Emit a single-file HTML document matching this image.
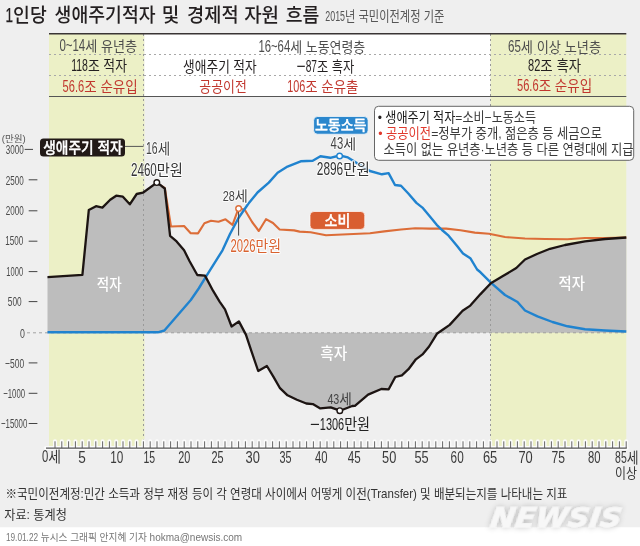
<!DOCTYPE html>
<html lang="ko"><head><meta charset="utf-8"><title>1인당 생애주기적자 및 경제적 자원 흐름</title>
<style>
html,body{margin:0;padding:0;background:#fff;}
svg{display:block;will-change:transform;font-family:'Liberation Sans', 'Noto Sans CJK KR', sans-serif;}
</style></head><body>
<svg width="640" height="546" viewBox="0 0 640 546">
<defs>
<filter id="glow" x="-10%" y="-40%" width="120%" height="180%">
<feGaussianBlur in="SourceAlpha" stdDeviation="3"/>
<feComponentTransfer><feFuncA type="linear" slope="0.25"/></feComponentTransfer>
<feMerge><feMergeNode/><feMergeNode in="SourceGraphic"/></feMerge>
</filter>
</defs>
<rect x="0" y="0" width="640" height="527.5" fill="#efefef"/>
<rect x="0" y="527.5" width="640" height="18.5" fill="#ffffff"/>
<rect x="49" y="34" width="95.5" height="414" fill="#ecf0c6"/>
<rect x="490.5" y="34" width="135.8" height="414" fill="#ecf0c6"/>
<rect x="144.5" y="34" width="345.7" height="62.5" fill="#ffffff"/>
<polygon points="47.5,332.8 47.5,277.1 82.4,274.8 88.8,210.0 96.0,206.2 102.4,207.6 110.2,199.8 116.2,195.7 122.9,196.7 129.8,204.3 136.7,194.0 142.9,192.7 156.8,182.6 161.4,185.8 164.8,188.5 170.1,235.9 176.6,241.4 184.1,250.3 189.6,261.3 197.3,275.0 205.0,275.6 213.0,290.7 219.6,301.6 225.0,309.3 231.6,326.5 238.9,321.4 245.9,334.6 251.4,351.1 258.2,371.0 266.9,366.0 273.5,376.9 280.0,388.2 287.5,395.3 296.9,399.8 306.3,403.5 312.8,404.1 320.3,408.4 330.7,407.3 340.0,410.7 352.2,406.0 354.9,405.8 368.1,394.6 381.3,389.0 388.7,389.3 395.3,377.0 401.9,375.3 408.5,369.2 415.9,359.3 422.5,354.4 429.1,346.5 436.9,333.8 442.3,330.0 449.7,324.9 462.6,310.8 470.3,305.6 480.5,294.1 490.8,283.3 502.5,276.3 516.3,268.0 525.0,259.5 537.5,253.8 550.0,248.8 565.0,245.0 585.0,241.3 605.0,239.0 626.3,237.5 626.3,332.8" fill="#bdbdbd"/>
<line x1="143.5" y1="34" x2="143.5" y2="448" stroke="#999" stroke-width="1" stroke-dasharray="2,3"/>
<line x1="490.5" y1="34" x2="490.5" y2="448" stroke="#999" stroke-width="1" stroke-dasharray="2,3"/>
<line x1="49" y1="33.8" x2="626.3" y2="33.8" stroke="#3a3535" stroke-width="1.6"/>
<line x1="49" y1="54.5" x2="626.3" y2="54.5" stroke="#a8a8a8" stroke-width="1" stroke-dasharray="2,3"/>
<line x1="49" y1="75.5" x2="626.3" y2="75.5" stroke="#a8a8a8" stroke-width="1" stroke-dasharray="2,3"/>
<line x1="49" y1="96.5" x2="626.3" y2="96.5" stroke="#555" stroke-width="1"/>
<line x1="27" y1="332.8" x2="626.3" y2="332.8" stroke="#9a9a9a" stroke-width="0.9" stroke-dasharray="3,3"/>
<polyline points="161.4,185.8 164.8,188.2 171.0,226.5 184.1,226.0 190.7,233.2 198.0,233.4 204.4,223.3 211.0,220.8 218.5,221.7 225.5,219.3 232.5,224.8 238.5,208.5 244.6,209.5 252.1,222.0 258.8,231.0 266.0,219.2 273.0,223.0 279.6,229.5 294.1,230.4 299.6,231.6 310.6,232.2 326.0,235.2 347.9,234.3 370.0,233.3 384.3,231.4 401.0,229.5 415.2,228.3 429.5,228.6 446.2,228.6 460.5,230.2 474.8,232.6 489.0,233.8 505.0,237.0 525.0,238.5 545.0,239.0 567.5,239.3 585.0,238.0 605.0,238.0 626.3,237.5" fill="none" stroke="#dc6d38" stroke-width="2.1" stroke-linejoin="round"/>
<polyline points="47.5,332.3 157.8,332.3 164.4,330.5 190.8,300.0 198.7,288.5 206.0,276.7 222.5,250.3 230.0,234.0 238.5,218.0 248.3,203.8 257.5,192.5 268.8,182.6 277.6,172.7 287.5,166.6 300.7,161.3 312.7,160.7 320.4,156.3 330.3,157.8 339.6,155.5 347.9,157.4 360.0,165.0 369.9,171.0 381.9,174.3 388.6,173.1 395.0,185.0 401.0,185.7 408.1,193.3 416.4,202.9 422.4,207.6 429.5,216.0 436.7,224.8 442.0,230.0 448.6,235.7 456.9,245.7 463.0,253.5 470.3,258.2 477.1,269.5 480.5,272.3 490.8,282.6 505.0,295.0 517.5,302.0 525.0,310.5 537.5,316.3 552.5,322.0 567.5,326.3 585.0,329.3 605.0,330.5 626.3,331.5" fill="none" stroke="#2083cf" stroke-width="2.4" stroke-linejoin="round"/>
<polyline points="47.5,277.1 82.4,274.8 88.8,210.0 96.0,206.2 102.4,207.6 110.2,199.8 116.2,195.7 122.9,196.7 129.8,204.3 136.7,194.0 142.9,192.7 156.8,182.6 161.4,185.8 164.8,188.5 170.1,235.9 176.6,241.4 184.1,250.3 189.6,261.3 197.3,275.0 205.0,275.6 213.0,290.7 219.6,301.6 225.0,309.3 231.6,326.5 238.9,321.4 245.9,334.6 251.4,351.1 258.2,371.0 266.9,366.0 273.5,376.9 280.0,388.2 287.5,395.3 296.9,399.8 306.3,403.5 312.8,404.1 320.3,408.4 330.7,407.3 340.0,410.7 352.2,406.0 354.9,405.8 368.1,394.6 381.3,389.0 388.7,389.3 395.3,377.0 401.9,375.3 408.5,369.2 415.9,359.3 422.5,354.4 429.1,346.5 436.9,333.8 442.3,330.0 449.7,324.9 462.6,310.8 470.3,305.6 480.5,294.1 490.8,283.3 502.5,276.3 516.3,268.0 525.0,259.5 537.5,253.8 550.0,248.8 565.0,245.0 585.0,241.3 605.0,239.0 626.3,237.5" fill="none" stroke="#1c1412" stroke-width="2.3" stroke-linejoin="round"/>
<path d="M55.0,441.3V448 M61.8,441.3V448 M68.6,441.3V448 M75.4,441.3V448 M82.2,441.3V448 M89.0,441.3V448 M95.8,441.3V448 M102.6,441.3V448 M109.4,441.3V448 M116.2,441.3V448 M123.0,441.3V448 M129.8,441.3V448 M136.6,441.3V448 M143.4,441.3V448 M150.2,441.3V448 M157.0,441.3V448 M163.8,441.3V448 M170.6,441.3V448 M177.4,441.3V448 M184.2,441.3V448 M191.0,441.3V448 M197.8,441.3V448 M204.6,441.3V448 M211.4,441.3V448 M218.2,441.3V448 M225.0,441.3V448 M231.8,441.3V448 M238.6,441.3V448 M245.4,441.3V448 M252.2,441.3V448 M259.0,441.3V448 M265.8,441.3V448 M272.6,441.3V448 M279.4,441.3V448 M286.2,441.3V448 M293.0,441.3V448 M299.8,441.3V448 M306.6,441.3V448 M313.4,441.3V448 M320.2,441.3V448 M327.0,441.3V448 M333.8,441.3V448 M340.6,441.3V448 M347.4,441.3V448 M354.2,441.3V448 M361.0,441.3V448 M367.8,441.3V448 M374.6,441.3V448 M381.4,441.3V448 M388.2,441.3V448 M395.0,441.3V448 M401.8,441.3V448 M408.6,441.3V448 M415.4,441.3V448 M422.2,441.3V448 M429.0,441.3V448 M435.8,441.3V448 M442.6,441.3V448 M449.4,441.3V448 M456.2,441.3V448 M463.0,441.3V448 M469.8,441.3V448 M476.6,441.3V448 M483.4,441.3V448 M490.2,441.3V448 M497.0,441.3V448 M503.8,441.3V448 M510.6,441.3V448 M517.4,441.3V448 M524.2,441.3V448 M531.0,441.3V448 M537.8,441.3V448 M544.6,441.3V448 M551.4,441.3V448 M558.2,441.3V448 M565.0,441.3V448 M571.8,441.3V448 M578.6,441.3V448 M585.4,441.3V448 M592.2,441.3V448 M599.0,441.3V448 M605.8,441.3V448 M612.6,441.3V448 M619.4,441.3V448 M626.2,441.3V448 M46,448.1H626.8" stroke="#fbfbfb" stroke-width="4" stroke-linecap="round"/>
<line x1="46" y1="448.1" x2="626.8" y2="448.1" stroke="#555" stroke-width="1.2"/>
<path d="M55.0,441.3V448 M61.8,441.3V448 M68.6,441.3V448 M75.4,441.3V448 M82.2,441.3V448 M89.0,441.3V448 M95.8,441.3V448 M102.6,441.3V448 M109.4,441.3V448 M116.2,441.3V448 M123.0,441.3V448 M129.8,441.3V448 M136.6,441.3V448 M143.4,441.3V448 M150.2,441.3V448 M157.0,441.3V448 M163.8,441.3V448 M170.6,441.3V448 M177.4,441.3V448 M184.2,441.3V448 M191.0,441.3V448 M197.8,441.3V448 M204.6,441.3V448 M211.4,441.3V448 M218.2,441.3V448 M225.0,441.3V448 M231.8,441.3V448 M238.6,441.3V448 M245.4,441.3V448 M252.2,441.3V448 M259.0,441.3V448 M265.8,441.3V448 M272.6,441.3V448 M279.4,441.3V448 M286.2,441.3V448 M293.0,441.3V448 M299.8,441.3V448 M306.6,441.3V448 M313.4,441.3V448 M320.2,441.3V448 M327.0,441.3V448 M333.8,441.3V448 M340.6,441.3V448 M347.4,441.3V448 M354.2,441.3V448 M361.0,441.3V448 M367.8,441.3V448 M374.6,441.3V448 M381.4,441.3V448 M388.2,441.3V448 M395.0,441.3V448 M401.8,441.3V448 M408.6,441.3V448 M415.4,441.3V448 M422.2,441.3V448 M429.0,441.3V448 M435.8,441.3V448 M442.6,441.3V448 M449.4,441.3V448 M456.2,441.3V448 M463.0,441.3V448 M469.8,441.3V448 M476.6,441.3V448 M483.4,441.3V448 M490.2,441.3V448 M497.0,441.3V448 M503.8,441.3V448 M510.6,441.3V448 M517.4,441.3V448 M524.2,441.3V448 M531.0,441.3V448 M537.8,441.3V448 M544.6,441.3V448 M551.4,441.3V448 M558.2,441.3V448 M565.0,441.3V448 M571.8,441.3V448 M578.6,441.3V448 M585.4,441.3V448 M592.2,441.3V448 M599.0,441.3V448 M605.8,441.3V448 M612.6,441.3V448 M619.4,441.3V448 M626.2,441.3V448" stroke="#555" stroke-width="0.9"/>
<line x1="24.7" y1="149.4" x2="33" y2="149.4" stroke="#444" stroke-width="1"/>
<line x1="28.7" y1="179.8" x2="37.4" y2="179.8" stroke="#444" stroke-width="1"/>
<line x1="28.7" y1="210.8" x2="37.4" y2="210.8" stroke="#444" stroke-width="1"/>
<line x1="28.7" y1="241.2" x2="37.4" y2="241.2" stroke="#444" stroke-width="1"/>
<line x1="28.7" y1="271.6" x2="37.4" y2="271.6" stroke="#444" stroke-width="1"/>
<line x1="28.7" y1="301.6" x2="37.4" y2="301.6" stroke="#444" stroke-width="1"/>
<line x1="28.7" y1="362.9" x2="37.4" y2="362.9" stroke="#444" stroke-width="1"/>
<line x1="28.7" y1="393.3" x2="37.4" y2="393.3" stroke="#444" stroke-width="1"/>
<line x1="28.7" y1="423.5" x2="37.4" y2="423.5" stroke="#444" stroke-width="1"/>
<rect x="40" y="138.6" width="85" height="18" rx="3.5" fill="#221a17"/>
<line x1="125" y1="146.4" x2="143.5" y2="146.4" stroke="#555" stroke-width="1"/>
<line x1="238.6" y1="212" x2="238.6" y2="235.6" stroke="#444" stroke-width="1"/>
<rect x="313.6" y="116.5" width="54.5" height="17.7" rx="4" fill="#2b87cd" stroke="#fff" stroke-opacity="0.7" stroke-width="1"/>
<rect x="310" y="211.5" width="54.75" height="17.9" rx="4" fill="#d95e31" stroke="#fff" stroke-opacity="0.7" stroke-width="1"/>
<circle cx="156.8" cy="182.6" r="2.8" fill="#fff" stroke="#1c1412" stroke-width="1.4"/>
<circle cx="339.6" cy="156.0" r="2.8" fill="#fff" stroke="#2083cf" stroke-width="1.4"/>
<circle cx="339.8" cy="410.7" r="2.8" fill="#fff" stroke="#1c1412" stroke-width="1.4"/>
<circle cx="238.6" cy="208.6" r="2.8" fill="#fff" stroke="#dc6d38" stroke-width="1.4"/>
<rect x="374.5" y="106.3" width="259.2" height="54" rx="4" fill="#fff" stroke="#666" stroke-width="1"/>
<text id="title" x="5.60" y="21.98" fill="#231f20" font-weight="500" xml:space="preserve"><tspan font-size="20.30" textLength="7.51" lengthAdjust="spacingAndGlyphs"  font-weight="400" stroke="#231f20" stroke-width="0.25">1</tspan><tspan font-size="19.80" textLength="33.64" lengthAdjust="spacingAndGlyphs" >인당</tspan></text>
<text id="title2" x="54.60" y="21.98" fill="#231f20" font-weight="500" xml:space="preserve"><tspan font-size="19.80" textLength="100.98" lengthAdjust="spacingAndGlyphs" >생애주기적자</tspan></text>
<text id="title3" x="161.80" y="21.98" fill="#231f20" font-weight="500" xml:space="preserve"><tspan font-size="19.80" textLength="17.58" lengthAdjust="spacingAndGlyphs" >및</tspan></text>
<text id="title4" x="187.00" y="21.98" fill="#231f20" font-weight="500" xml:space="preserve"><tspan font-size="19.80" textLength="51.63" lengthAdjust="spacingAndGlyphs" >경제적</tspan></text>
<text id="title5" x="244.20" y="21.98" fill="#231f20" font-weight="500" xml:space="preserve"><tspan font-size="19.80" textLength="34.88" lengthAdjust="spacingAndGlyphs" >자원</tspan></text>
<text id="title6" x="285.70" y="21.98" fill="#231f20" font-weight="500" xml:space="preserve"><tspan font-size="19.80" textLength="33.59" lengthAdjust="spacingAndGlyphs" >흐름</tspan></text>
<text id="subtitle" x="325.25" y="21.48" fill="#555" xml:space="preserve"><tspan font-size="14.60" textLength="19.79" lengthAdjust="spacingAndGlyphs" >2015</tspan><tspan font-size="13.30" textLength="99.32" lengthAdjust="spacingAndGlyphs" >년 국민이전계정 기준</tspan></text>
<text id="r1l" x="59.40" y="51.11" fill="#4d4d4d" xml:space="preserve"><tspan font-size="17.00" textLength="25.83" lengthAdjust="spacingAndGlyphs" >0~14</tspan><tspan font-size="14.00" textLength="51.84" lengthAdjust="spacingAndGlyphs" >세 유년층</tspan></text>
<text id="r1m" x="258.40" y="52.11" fill="#4d4d4d" xml:space="preserve"><tspan font-size="17.00" textLength="31.82" lengthAdjust="spacingAndGlyphs" >16~64</tspan><tspan font-size="14.00" textLength="75.04" lengthAdjust="spacingAndGlyphs" >세 노동연령층</tspan></text>
<text id="r1r" x="508.00" y="52.06" fill="#4d4d4d" xml:space="preserve"><tspan font-size="17.00" textLength="12.86" lengthAdjust="spacingAndGlyphs" >65</tspan><tspan font-size="14.00" textLength="80.21" lengthAdjust="spacingAndGlyphs" >세 이상 노년층</tspan></text>
<text id="r2l" x="71.20" y="71.10" fill="#231f20" xml:space="preserve"><tspan font-size="17.20" textLength="16.79" lengthAdjust="spacingAndGlyphs" >118</tspan><tspan font-size="15.10" textLength="38.98" lengthAdjust="spacingAndGlyphs" >조 적자</tspan></text>
<text id="r2m1" x="183.10" y="71.74" fill="#231f20" xml:space="preserve"><tspan font-size="15.10" textLength="73.64" lengthAdjust="spacingAndGlyphs" >생애주기 적자</tspan></text>
<text id="r2m2" x="296.60" y="71.63" fill="#231f20" xml:space="preserve"><tspan font-size="17.40" textLength="9.11" lengthAdjust="spacingAndGlyphs" >−</tspan><tspan font-size="17.40" textLength="11.32" lengthAdjust="spacingAndGlyphs" >87</tspan><tspan font-size="15.10" textLength="37.24" lengthAdjust="spacingAndGlyphs" >조 흑자</tspan></text>
<text id="r2r" x="528.00" y="71.05" fill="#231f20" xml:space="preserve"><tspan font-size="17.20" textLength="12.29" lengthAdjust="spacingAndGlyphs" >82</tspan><tspan font-size="15.10" textLength="40.87" lengthAdjust="spacingAndGlyphs" >조 흑자</tspan></text>
<text id="r3l" x="62.60" y="91.50" fill="#c1372e" xml:space="preserve"><tspan font-size="17.20" textLength="21.60" lengthAdjust="spacingAndGlyphs" >56.6</tspan><tspan font-size="15.10" textLength="53.51" lengthAdjust="spacingAndGlyphs" >조 순유입</tspan></text>
<text id="r3m1" x="199.30" y="91.94" fill="#c1372e" xml:space="preserve"><tspan font-size="15.10" textLength="47.44" lengthAdjust="spacingAndGlyphs" >공공이전</tspan></text>
<text id="r3m2" x="287.20" y="91.82" fill="#c1372e" xml:space="preserve"><tspan font-size="16.90" textLength="18.06" lengthAdjust="spacingAndGlyphs" >106</tspan><tspan font-size="15.10" textLength="53.10" lengthAdjust="spacingAndGlyphs" >조 순유출</tspan></text>
<text id="r3r" x="517.00" y="91.25" fill="#c1372e" xml:space="preserve"><tspan font-size="17.20" textLength="21.64" lengthAdjust="spacingAndGlyphs" >56.6</tspan><tspan font-size="15.10" textLength="53.60" lengthAdjust="spacingAndGlyphs" >조 순유입</tspan></text>
<text id="lab_def" x="43.25" y="152.75" fill="#ffffff" font-weight="500" stroke="#fff" stroke-width="0.35" xml:space="preserve"><tspan font-size="15.00" textLength="79.33" lengthAdjust="spacingAndGlyphs" >생애주기 적자</tspan></text>
<text id="age16" x="146.00" y="154.37" fill="#444" stroke="#ffffff" stroke-opacity="0.85" stroke-width="2.2" stroke-linejoin="round" paint-order="stroke" xml:space="preserve"><tspan font-size="16.20" textLength="11.63" lengthAdjust="spacingAndGlyphs" >16</tspan><tspan font-size="15.10" textLength="12.44" lengthAdjust="spacingAndGlyphs" >세</tspan></text>
<text id="v2460" x="131.00" y="176.23" fill="#333" stroke="#ffffff" stroke-opacity="0.85" stroke-width="2.2" stroke-linejoin="round" paint-order="stroke" xml:space="preserve"><tspan font-size="18.20" textLength="25.76" lengthAdjust="spacingAndGlyphs" >2460</tspan><tspan font-size="16.10" textLength="26.16" lengthAdjust="spacingAndGlyphs" >만원</tspan></text>
<text id="age28" x="222.70" y="201.24" fill="#444" stroke="#ffffff" stroke-opacity="0.85" stroke-width="2.2" stroke-linejoin="round" paint-order="stroke" xml:space="preserve"><tspan font-size="15.10" textLength="12.14" lengthAdjust="spacingAndGlyphs" >28</tspan><tspan font-size="14.20" textLength="13.09" lengthAdjust="spacingAndGlyphs" >세</tspan></text>
<text id="v2026" x="230.40" y="252.25" fill="#d9622f" stroke="#ffffff" stroke-opacity="0.85" stroke-width="2.2" stroke-linejoin="round" paint-order="stroke" xml:space="preserve"><tspan font-size="17.80" textLength="25.07" lengthAdjust="spacingAndGlyphs" >2026</tspan><tspan font-size="15.80" textLength="25.56" lengthAdjust="spacingAndGlyphs" >만원</tspan></text>
<text id="lab_lab" x="314.90" y="130.32" fill="#ffffff" font-weight="500" stroke="#fff" stroke-width="0.35" xml:space="preserve"><tspan font-size="14.00" textLength="51.58" lengthAdjust="spacingAndGlyphs" >노동소득</tspan></text>
<text id="age43a" x="330.60" y="149.41" fill="#444" stroke="#ffffff" stroke-opacity="0.85" stroke-width="2.2" stroke-linejoin="round" paint-order="stroke" xml:space="preserve"><tspan font-size="15.60" textLength="12.62" lengthAdjust="spacingAndGlyphs" >43</tspan><tspan font-size="13.90" textLength="12.89" lengthAdjust="spacingAndGlyphs" >세</tspan></text>
<text id="v2896" x="316.80" y="174.75" fill="#333" stroke="#ffffff" stroke-opacity="0.85" stroke-width="2.2" stroke-linejoin="round" paint-order="stroke" xml:space="preserve"><tspan font-size="17.80" textLength="26.41" lengthAdjust="spacingAndGlyphs" >2896</tspan><tspan font-size="15.60" textLength="26.57" lengthAdjust="spacingAndGlyphs" >만원</tspan></text>
<text id="lab_con" x="324.60" y="226.13" fill="#ffffff" font-weight="500" stroke="#fff" stroke-width="0.35" xml:space="preserve"><tspan font-size="14.60" textLength="25.72" lengthAdjust="spacingAndGlyphs" >소비</tspan></text>
<text id="age43b" x="327.40" y="404.48" fill="#444" xml:space="preserve"><tspan font-size="14.50" textLength="11.86" lengthAdjust="spacingAndGlyphs" >43</tspan><tspan font-size="13.40" textLength="12.56" lengthAdjust="spacingAndGlyphs" >세</tspan></text>
<text id="v1306" x="310.00" y="430.32" fill="#222" xml:space="preserve"><tspan font-size="16.80" textLength="9.80" lengthAdjust="spacingAndGlyphs" >−</tspan><tspan font-size="16.80" textLength="24.33" lengthAdjust="spacingAndGlyphs" >1306</tspan><tspan font-size="15.60" textLength="25.94" lengthAdjust="spacingAndGlyphs" >만원</tspan></text>
<text id="defL" x="96.80" y="289.51" fill="#ffffff" font-weight="500" xml:space="preserve"><tspan font-size="15.60" textLength="24.90" lengthAdjust="spacingAndGlyphs" >적자</tspan></text>
<text id="defR" x="558.50" y="288.91" fill="#ffffff" font-weight="500" xml:space="preserve"><tspan font-size="15.60" textLength="26.42" lengthAdjust="spacingAndGlyphs" >적자</tspan></text>
<text id="sur" x="320.30" y="359.41" fill="#ffffff" font-weight="500" xml:space="preserve"><tspan font-size="15.60" textLength="27.00" lengthAdjust="spacingAndGlyphs" >흑자</tspan></text>
<text id="leg1" x="377.75" y="122.08" fill="#3a3a3a" xml:space="preserve"><tspan font-size="13.20" textLength="7.58" lengthAdjust="spacingAndGlyphs" fill="#231f20">• </tspan><tspan font-size="13.20" textLength="70.01" lengthAdjust="spacingAndGlyphs" fill="#1a1a1a">생애주기 적자</tspan><tspan font-size="13.20" textLength="80.75" lengthAdjust="spacingAndGlyphs" >=소비−노동소득</tspan></text>
<text id="leg2" x="378.30" y="138.15" fill="#3a3a3a" xml:space="preserve"><tspan font-size="13.60" textLength="52.87" lengthAdjust="spacingAndGlyphs" fill="#e0392d">• 공공이전</tspan><tspan font-size="13.60" textLength="170.99" lengthAdjust="spacingAndGlyphs" >=정부가 중개, 젊은층 등 세금으로</tspan></text>
<text id="leg3" x="383.50" y="154.46" fill="#3a3a3a" xml:space="preserve"><tspan font-size="13.40" textLength="249.96" lengthAdjust="spacingAndGlyphs" >소득이 없는 유년층·노년층 등 다른 연령대에 지급</tspan></text>
<text id="ymw" x="1.70" y="142.24" fill="#555" xml:space="preserve"><tspan font-size="9.40" textLength="24.00" lengthAdjust="spacingAndGlyphs" >(만원)</tspan></text>
<text id="y3000" x="5.70" y="154.35" fill="#4a4a4a" xml:space="preserve"><tspan font-size="12.80" textLength="18.00" lengthAdjust="spacingAndGlyphs" >3000</tspan></text>
<text id="y2500" x="5.70" y="184.80" fill="#4a4a4a" xml:space="preserve"><tspan font-size="12.80" textLength="18.00" lengthAdjust="spacingAndGlyphs" >2500</tspan></text>
<text id="y2000" x="5.70" y="214.95" fill="#4a4a4a" xml:space="preserve"><tspan font-size="12.80" textLength="18.00" lengthAdjust="spacingAndGlyphs" >2000</tspan></text>
<text id="y1500" x="5.20" y="245.45" fill="#4a4a4a" xml:space="preserve"><tspan font-size="12.80" textLength="18.03" lengthAdjust="spacingAndGlyphs" >1500</tspan></text>
<text id="y1000" x="6.30" y="276.20" fill="#4a4a4a" xml:space="preserve"><tspan font-size="12.80" textLength="16.83" lengthAdjust="spacingAndGlyphs" >1000</tspan></text>
<text id="y500" x="7.80" y="306.40" fill="#4a4a4a" xml:space="preserve"><tspan font-size="12.80" textLength="13.85" lengthAdjust="spacingAndGlyphs" >500</tspan></text>
<text id="y−500" x="5.10" y="367.70" fill="#4a4a4a" xml:space="preserve"><tspan font-size="12.80" textLength="19.02" lengthAdjust="spacingAndGlyphs" >−500</tspan></text>
<text id="y−1000" x="3.25" y="398.20" fill="#4a4a4a" xml:space="preserve"><tspan font-size="12.80" textLength="21.84" lengthAdjust="spacingAndGlyphs" >−1000</tspan></text>
<text id="y−15000" x="0.95" y="428.00" fill="#4a4a4a" xml:space="preserve"><tspan font-size="12.80" textLength="26.38" lengthAdjust="spacingAndGlyphs" >−15000</tspan></text>
<text id="y0" x="20.00" y="337.60" fill="#4a4a4a" xml:space="preserve"><tspan font-size="12.80" textLength="4.91" lengthAdjust="spacingAndGlyphs" >0</tspan></text>
<text id="x5" x="78.25" y="463.10" fill="#3a3a3a" xml:space="preserve"><tspan font-size="17.00" textLength="7.57" lengthAdjust="spacingAndGlyphs" >5</tspan></text>
<text id="x10" x="110.20" y="463.10" fill="#3a3a3a" xml:space="preserve"><tspan font-size="17.00" textLength="13.05" lengthAdjust="spacingAndGlyphs" >10</tspan></text>
<text id="x15" x="143.50" y="463.10" fill="#3a3a3a" xml:space="preserve"><tspan font-size="17.00" textLength="11.68" lengthAdjust="spacingAndGlyphs" >15</tspan></text>
<text id="x20" x="178.25" y="463.10" fill="#3a3a3a" xml:space="preserve"><tspan font-size="17.00" textLength="12.05" lengthAdjust="spacingAndGlyphs" >20</tspan></text>
<text id="x25" x="211.40" y="463.10" fill="#3a3a3a" xml:space="preserve"><tspan font-size="17.00" textLength="12.14" lengthAdjust="spacingAndGlyphs" >25</tspan></text>
<text id="x30" x="245.60" y="463.10" fill="#3a3a3a" xml:space="preserve"><tspan font-size="17.00" textLength="14.35" lengthAdjust="spacingAndGlyphs" >30</tspan></text>
<text id="x35" x="279.40" y="463.10" fill="#3a3a3a" xml:space="preserve"><tspan font-size="17.00" textLength="12.07" lengthAdjust="spacingAndGlyphs" >35</tspan></text>
<text id="x40" x="314.90" y="463.10" fill="#3a3a3a" xml:space="preserve"><tspan font-size="17.00" textLength="12.51" lengthAdjust="spacingAndGlyphs" >40</tspan></text>
<text id="x45" x="347.70" y="463.10" fill="#3a3a3a" xml:space="preserve"><tspan font-size="17.00" textLength="12.97" lengthAdjust="spacingAndGlyphs" >45</tspan></text>
<text id="x50" x="382.10" y="463.10" fill="#3a3a3a" xml:space="preserve"><tspan font-size="17.00" textLength="14.22" lengthAdjust="spacingAndGlyphs" >50</tspan></text>
<text id="x55" x="414.50" y="463.10" fill="#3a3a3a" xml:space="preserve"><tspan font-size="17.00" textLength="14.25" lengthAdjust="spacingAndGlyphs" >55</tspan></text>
<text id="x60" x="450.60" y="463.10" fill="#3a3a3a" xml:space="preserve"><tspan font-size="17.00" textLength="13.09" lengthAdjust="spacingAndGlyphs" >60</tspan></text>
<text id="x65" x="482.90" y="463.10" fill="#3a3a3a" xml:space="preserve"><tspan font-size="17.00" textLength="14.36" lengthAdjust="spacingAndGlyphs" >65</tspan></text>
<text id="x70" x="518.40" y="463.10" fill="#3a3a3a" xml:space="preserve"><tspan font-size="17.00" textLength="14.31" lengthAdjust="spacingAndGlyphs" >70</tspan></text>
<text id="x75" x="551.60" y="463.10" fill="#3a3a3a" xml:space="preserve"><tspan font-size="17.00" textLength="13.52" lengthAdjust="spacingAndGlyphs" >75</tspan></text>
<text id="x80" x="587.90" y="463.10" fill="#3a3a3a" xml:space="preserve"><tspan font-size="17.00" textLength="12.51" lengthAdjust="spacingAndGlyphs" >80</tspan></text>
<text id="x0" x="42.00" y="462.31" fill="#3a3a3a" xml:space="preserve"><tspan font-size="17.00" textLength="6.30" lengthAdjust="spacingAndGlyphs" >0</tspan><tspan font-size="15.00" textLength="12.76" lengthAdjust="spacingAndGlyphs" >세</tspan></text>
<text id="x85" x="615.10" y="463.31" fill="#3a3a3a" xml:space="preserve"><tspan font-size="17.00" textLength="11.65" lengthAdjust="spacingAndGlyphs" >85</tspan><tspan font-size="15.00" textLength="11.80" lengthAdjust="spacingAndGlyphs" >세</tspan></text>
<text id="x85b" x="615.00" y="478.47" fill="#3a3a3a" xml:space="preserve"><tspan font-size="13.30" textLength="22.06" lengthAdjust="spacingAndGlyphs" >이상</tspan></text>
<text id="fn1" x="5.50" y="498.10" fill="#333" xml:space="preserve"><tspan font-size="12.90" textLength="561.93" lengthAdjust="spacingAndGlyphs" >※국민이전계정:민간 소득과 정부 재정 등이 각 연령대 사이에서 어떻게 이전(Transfer) 및 배분되는지를 나타내는 지표</tspan></text>
<text id="fn2" x="4.25" y="519.21" fill="#333" xml:space="preserve"><tspan font-size="12.70" textLength="62.66" lengthAdjust="spacingAndGlyphs" >자료: 통계청</tspan></text>
<text id="foot" x="5.90" y="540.72" fill="#777" xml:space="preserve"><tspan font-size="10.40" textLength="32.19" lengthAdjust="spacingAndGlyphs" >19.01.22</tspan><tspan font-size="9.80" textLength="111.50" lengthAdjust="spacingAndGlyphs" > 뉴시스 그래픽 안지혜 기자 </tspan><tspan font-size="10.40" textLength="92.62" lengthAdjust="spacingAndGlyphs" >hokma@newsis.com</tspan></text>
<text transform="translate(489.5 527) skewX(-8)" x="0" y="0" font-size="26.7" font-weight="bold" font-style="italic" fill="#f7f7f7" textLength="131" lengthAdjust="spacingAndGlyphs" stroke="#f7f7f7" stroke-width="0.6" filter="url(#glow)" font-family="DejaVu Sans, sans-serif">NEWSIS</text>
</svg></body></html>
